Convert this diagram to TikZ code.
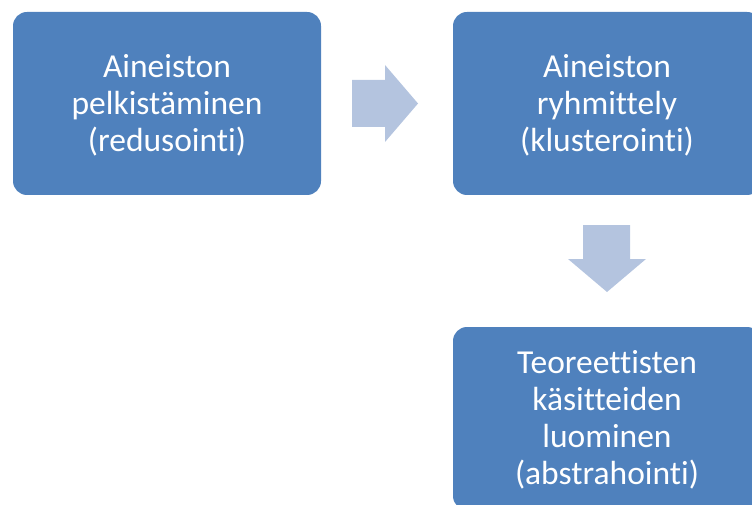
\documentclass[tikz,border=0pt]{standalone}
\usepackage{fontspec}
\setmainfont{Carlito}[Ligatures=NoCommon]
\definecolor{boxblue}{HTML}{4F81BD}
\definecolor{arrowblue}{HTML}{B4C4DF}
\tikzset{
  stepbox/.style={fill=boxblue, draw=none, rounded corners=14pt},
  boxtext/.style={text=white, align=center, font=\fontsize{33.5}{37}\selectfont},
  flowarrow/.style={fill=arrowblue, draw=none}
}
\begin{document}
\begin{tikzpicture}[x=1pt,y=-1pt]
\useasboundingbox (0,0) rectangle (752,505);
\begin{scope}
\clip (0,0) rectangle (752,505);
\fill[stepbox] (13,12) rectangle (321,195);
\fill[stepbox] (453,12) rectangle (761,195);
\fill[stepbox] (453,327) rectangle (761,510);
\node[boxtext] (b1) at (167,105) {Aineiston\\pelkistäminen\\(redusointi)};
\node[boxtext] (b2) at (607,105) {Aineiston\\ryhmittely\\(klusterointi)};
\node[boxtext] (b3) at (607,419.5) {Teoreettisten\\käsitteiden\\luominen\\(abstrahointi)};
\fill[flowarrow] (352,80) -- (385,80) -- (385,65) -- (418,103.5) -- (385,142) -- (385,127) -- (352,127) -- cycle;
\fill[flowarrow] (583,225) -- (630,225) -- (630,259) -- (646,259) -- (607,292) -- (568,259) -- (583,259) -- cycle;
\end{scope}
\end{tikzpicture}
\end{document}
